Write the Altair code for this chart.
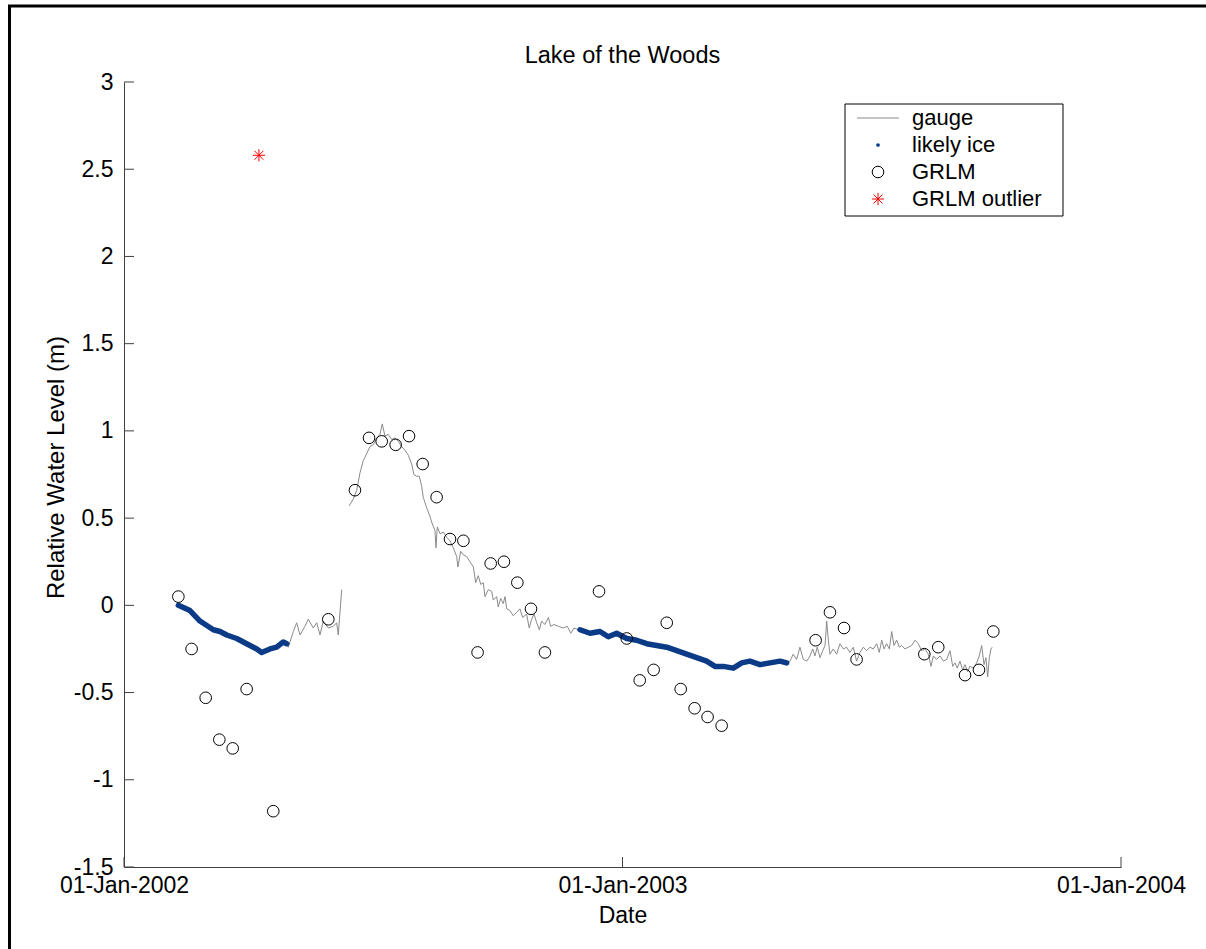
import altair as alt
import pandas as pd

ORIGIN = pd.Timestamp("2002-01-01")

# Gauge record: days after 1 Jan 2002 and relative water level (m).
# Two runs, separated by a short gap in the record in June 2002.
run1_day = [39.8, 48.3, 55.6, 65.4, 70.3, 75.2, 82.5, 89.8, 97.2, 100.8, 106.9, 111.8, 116.6, 119.1,
            120.3, 124.0, 126.4, 128.9, 132.5, 134.9, 138.6, 141.1, 143.5, 145.9, 149.6, 153.2, 155.7,
            156.9, 159.4]
run1_level = [0.00, -0.03, -0.09, -0.14, -0.15, -0.17, -0.19, -0.22, -0.25, -0.27, -0.25, -0.24, -0.21, -0.22,
              -0.24, -0.15, -0.10, -0.17, -0.12, -0.08, -0.13, -0.10, -0.17, -0.09, -0.13, -0.12, -0.10,
              -0.17, 0.09]

run2_day = [164.9, 167.9, 170.4, 172.8, 175.2, 177.7, 180.1, 182.5, 185.0, 187.4, 189.1, 191.1, 193.5,
            196.0, 198.4, 200.8, 203.3, 205.7, 208.2, 210.6, 212.3, 214.3, 216.2, 218.0, 219.1, 221.6,
            224.0, 226.0, 227.7, 228.4, 229.4, 231.4, 233.8, 236.3, 238.7, 241.1, 243.6, 244.5, 246.5,
            248.4, 250.9, 253.3, 255.8, 257.5, 259.4, 261.2, 263.1, 264.3, 266.7, 269.2, 270.4, 272.9,
            274.0, 275.8, 277.7, 279.0, 280.2, 282.6, 285.0, 287.5, 289.9, 291.9, 294.8, 296.7, 298.5,
            300.2, 302.2, 304.1, 305.8, 308.2, 310.7, 312.4, 314.8, 318.0, 321.6, 324.6, 327.1, 329.5,
            332.6,
            333.9, 341.2, 348.5, 354.6, 360.7, 368.1, 375.4, 382.7, 390.0, 397.4, 404.7, 412.0, 419.3,
            426.6, 432.7, 438.8, 446.1, 452.3, 458.3, 465.7, 473.0, 480.3, 485.2,
            487.6, 490.0, 492.5, 494.9, 497.4, 499.9, 502.3, 504.3, 505.9, 507.6, 509.6, 511.6, 513.3,
            514.5, 515.7, 516.9, 519.3, 521.8, 524.2, 526.7, 529.1, 531.5, 534.0, 536.4, 538.9, 541.3,
            543.8, 546.2, 548.6, 551.1, 553.0, 554.8, 556.5, 558.4, 560.4, 562.1, 563.8, 565.8, 567.7,
            569.4, 571.8, 574.3, 576.7, 579.2, 581.6, 584.0, 586.5, 588.9, 590.9, 592.6, 595.0, 597.5,
            599.9, 602.4, 604.8, 606.8, 608.4, 610.1, 612.1, 614.1, 615.8, 617.7, 619.4, 621.9, 624.3,
            626.2, 628.0, 629.7, 631.1, 632.4, 633.6, 634.8, 635.7]
run2_level = [0.57, 0.61, 0.66, 0.76, 0.83, 0.87, 0.91, 0.92, 0.96, 0.98, 1.04, 0.97, 0.98,
              0.95, 0.96, 0.94, 0.91, 0.89, 0.86, 0.81, 0.75, 0.74, 0.74, 0.68, 0.62, 0.56,
              0.51, 0.46, 0.43, 0.33, 0.45, 0.41, 0.42, 0.39, 0.37, 0.33, 0.28, 0.22, 0.31,
              0.29, 0.28, 0.25, 0.22, 0.13, 0.17, 0.12, 0.13, 0.05, 0.09, 0.08, 0.03, 0.05,
              -0.01, 0.04, 0.01, 0.05, -0.02, -0.03, -0.06, -0.04, -0.02, -0.07, -0.05, -0.13, -0.08,
              -0.05, -0.10, -0.14, -0.09, -0.11, -0.07, -0.12, -0.11, -0.12, -0.13, -0.12, -0.16, -0.13,
              -0.14,
              -0.14, -0.16, -0.15, -0.18, -0.16, -0.19, -0.20, -0.22, -0.23, -0.24, -0.26, -0.28, -0.30,
              -0.32, -0.35, -0.35, -0.36, -0.33, -0.32, -0.34, -0.33, -0.32, -0.33,
              -0.32, -0.28, -0.31, -0.24, -0.31, -0.32, -0.29, -0.25, -0.29, -0.24, -0.30, -0.26, -0.23,
              -0.09, -0.20, -0.28, -0.25, -0.28, -0.22, -0.25, -0.24, -0.27, -0.24, -0.32, -0.27, -0.24,
              -0.26, -0.24, -0.25, -0.22, -0.27, -0.20, -0.25, -0.22, -0.25, -0.15, -0.23, -0.20, -0.24,
              -0.23, -0.25, -0.24, -0.23, -0.20, -0.22, -0.26, -0.25, -0.28, -0.35, -0.29, -0.31, -0.29,
              -0.32, -0.31, -0.26, -0.35, -0.33, -0.36, -0.32, -0.37, -0.34, -0.38, -0.35, -0.36, -0.33,
              -0.29, -0.23, -0.34, -0.30, -0.41, -0.30, -0.25, -0.24]

# Windows (days after 1 Jan 2002) in which gauge readings are flagged as likely ice
ice_windows = [(39.0, 120.0), (333.0, 486.0)]

# GRLM altimetry heights
grlm_day = [39.8, 49.5, 59.8, 69.8, 79.6, 89.8, 109.3, 149.6, 169.1, 179.4, 188.7, 198.9, 208.7, 218.7,
            228.9, 238.7, 248.5, 258.9, 268.5, 278.2, 288.0, 298.0, 308.2, 347.8, 368.1, 377.6, 387.8,
            397.4, 407.6, 417.8, 427.3, 437.6, 506.4, 516.9, 527.2, 536.4, 586.0, 596.2, 615.8, 626.0,
            636.5]
grlm_level = [0.05, -0.25, -0.53, -0.77, -0.82, -0.48, -1.18, -0.08, 0.66, 0.96, 0.94, 0.92, 0.97, 0.81,
              0.62, 0.38, 0.37, -0.27, 0.24, 0.25, 0.13, -0.02, -0.27, 0.08, -0.19, -0.43, -0.37,
              -0.10, -0.48, -0.59, -0.64, -0.69, -0.20, -0.04, -0.13, -0.31, -0.28, -0.24, -0.40, -0.37,
              -0.15]

outlier_day = [98.8]
outlier_level = [2.58]

y_ticks = [3, 2.5, 2, 1.5, 1, 0.5, 0, -0.5, -1, -1.5]
x_tick_years = [2002, 2003, 2004]

legend_labels = ["gauge", "likely ice", "GRLM", "GRLM outlier"]

# ---------------------------------------------------------------------------
W, H = 997, 785
FONT = "Liberation Sans"
FS = 23          # tick labels and axis titles
FS_YTITLE = 24
FS_TITLE = 23.5
FS_LEGEND = 22
GAUGE_GREY = "#8a8a8a"
ICE_BLUE = "#0b3a86"
ASTERISK = "M0,-1L0,1M-1,0L1,0M-0.72,-0.72L0.72,0.72M-0.72,0.72L0.72,-0.72"


def to_iso(days):
    return [(ORIGIN + pd.to_timedelta(d, unit="D")).strftime("%Y-%m-%dT%H:%M:%SZ") for d in days]


def ice_window_of(d):
    for i, (a, b) in enumerate(ice_windows):
        if a <= d <= b:
            return i
    return -1


gauge = pd.DataFrame({
    "date": to_iso(run1_day) + to_iso(run2_day),
    "level": run1_level + run2_level,
    "run": [1] * len(run1_day) + [2] * len(run2_day),
    "day": run1_day + run2_day,
})
gauge["ice"] = [ice_window_of(d) for d in gauge["day"]]
ice = gauge[gauge["ice"] >= 0]

grlm = pd.DataFrame({"date": to_iso(grlm_day), "level": grlm_level})
outlier = pd.DataFrame({"date": to_iso(outlier_day), "level": outlier_level})
xticks = pd.DataFrame({"date": [f"{y}-01-01T00:00:00Z" for y in x_tick_years]})
yticks = pd.DataFrame({"level": y_ticks})
one = pd.DataFrame({"k": [0]})

x_scale = alt.Scale(type="utc",
                    domain=[alt.DateTime(year=x_tick_years[0], month=1, date=1, utc=True),
                            alt.DateTime(year=x_tick_years[-1], month=1, date=1, utc=True)],
                    nice=False)
y_scale = alt.Scale(domain=[min(y_ticks), max(y_ticks)], nice=False, zero=False)

x_axis = alt.Axis(
    values=[alt.DateTime(year=y, month=1, date=1, utc=True) for y in x_tick_years],
    labelExpr="utcFormat(datum.value, '%d-%b-%Y')",
    ticks=False, tickSize=0, grid=False, labelFlush=False, labelOverlap=False,
    labelPadding=7, labelFont=FONT, labelFontSize=FS, labelColor="black",
    domainColor="#404040", domainWidth=1,
    title="Date", titleFont=FONT, titleFontSize=FS, titleFontWeight="normal",
    titleColor="black", titlePadding=7,
)
y_axis = alt.Axis(
    values=y_ticks, labelExpr="'' + datum.value",
    ticks=False, tickSize=0, grid=False, labelFlush=False, labelOverlap=False,
    labelPadding=11, labelFont=FONT, labelFontSize=FS, labelColor="black",
    domainColor="#404040", domainWidth=1,
    title="Relative Water Level (m)", titleFont=FONT, titleFontSize=FS_YTITLE,
    titleFontWeight="normal", titleColor="black",
    titleAngle=270, titleX=-61, titleY=385, titleAlign="center", titleBaseline="alphabetic",
)


def X():
    return alt.X("date:T", scale=x_scale, axis=x_axis)


def Y():
    return alt.Y("level:Q", scale=y_scale, axis=y_axis)


gauge_line = alt.Chart(gauge).mark_line(color=GAUGE_GREY, strokeWidth=1).encode(
    x=X(), y=Y(), detail="run:N", order="day:Q")

ice_line = alt.Chart(ice).mark_line(color=ICE_BLUE, strokeWidth=5.5, strokeCap="round",
                                    strokeJoin="round").encode(
    x=X(), y=Y(), detail="ice:N", order="day:Q")

grlm_pts = alt.Chart(grlm).mark_point(shape="circle", filled=False, size=135, color="black",
                                      strokeWidth=1, opacity=1).encode(x=X(), y=Y())

outlier_pts = alt.Chart(outlier).mark_point(shape=ASTERISK, filled=False, size=150, color="red",
                                            strokeWidth=1, opacity=1).encode(x=X(), y=Y())

# inward-pointing tick marks
x_tick_marks = alt.Chart(xticks).mark_rule(color="#404040", strokeWidth=1).encode(
    x=X(), y=alt.value(H), y2=alt.value(H - 10))
y_tick_marks = alt.Chart(yticks).mark_rule(color="#404040", strokeWidth=1).encode(
    y=Y(), x=alt.value(0), x2=alt.value(10))

title = alt.Chart(one).mark_text(text="Lake of the Woods", font=FONT, fontSize=FS_TITLE,
                                 color="black", align="center", baseline="alphabetic").encode(
    x=alt.value(W / 2), y=alt.value(-19))

# legend box
LX0, LX1, LY0, LY1 = 721, 939, 22, 134
rows = [36, 63, 90, 117]
SYM_X = 754
TXT_X = 788
legend_box = alt.Chart(one).mark_rect(fill="white", stroke="black", strokeWidth=1).encode(
    x=alt.value(LX0), x2=alt.value(LX1), y=alt.value(LY0), y2=alt.value(LY1))
leg_gauge = alt.Chart(one).mark_rule(color=GAUGE_GREY, strokeWidth=1).encode(
    x=alt.value(733), x2=alt.value(775), y=alt.value(rows[0]))
leg_ice = alt.Chart(one).mark_point(shape="circle", filled=True, size=14, color=ICE_BLUE,
                                    opacity=1).encode(x=alt.value(SYM_X), y=alt.value(rows[1]))
leg_grlm = alt.Chart(one).mark_point(shape="circle", filled=False, size=135, color="black",
                                     strokeWidth=1, opacity=1).encode(
    x=alt.value(SYM_X), y=alt.value(rows[2]))
leg_out = alt.Chart(one).mark_point(shape=ASTERISK, filled=False, size=150, color="red",
                                    strokeWidth=1, opacity=1).encode(
    x=alt.value(SYM_X), y=alt.value(rows[3]))
leg_text = [
    alt.Chart(one).mark_text(text=lbl, font=FONT, fontSize=FS_LEGEND, color="black", align="left",
                             baseline="middle").encode(x=alt.value(TXT_X), y=alt.value(r))
    for lbl, r in zip(legend_labels, rows)
]

# figure frame (top and left edges)
frame_top = alt.Chart(one).mark_rule(color="black", strokeWidth=3).encode(
    x=alt.value(-116), x2=alt.value(1082), y=alt.value(-76))
frame_left = alt.Chart(one).mark_rule(color="black", strokeWidth=3).encode(
    x=alt.value(-114.5), y=alt.value(-77), y2=alt.value(H + 82))

chart = alt.layer(
    gauge_line, ice_line, grlm_pts, outlier_pts, x_tick_marks, y_tick_marks, title,
    legend_box, leg_gauge, leg_ice, leg_grlm, leg_out, *leg_text, frame_top, frame_left,
).properties(
    width=W, height=H,
    autosize=alt.AutoSizeParams(type="none"),
    padding={"left": 124, "top": 82, "right": 85, "bottom": 82},
    background="white",
).configure_view(stroke=None)

chart.save("out.html", embed_options={"renderer": "svg", "actions": False})
